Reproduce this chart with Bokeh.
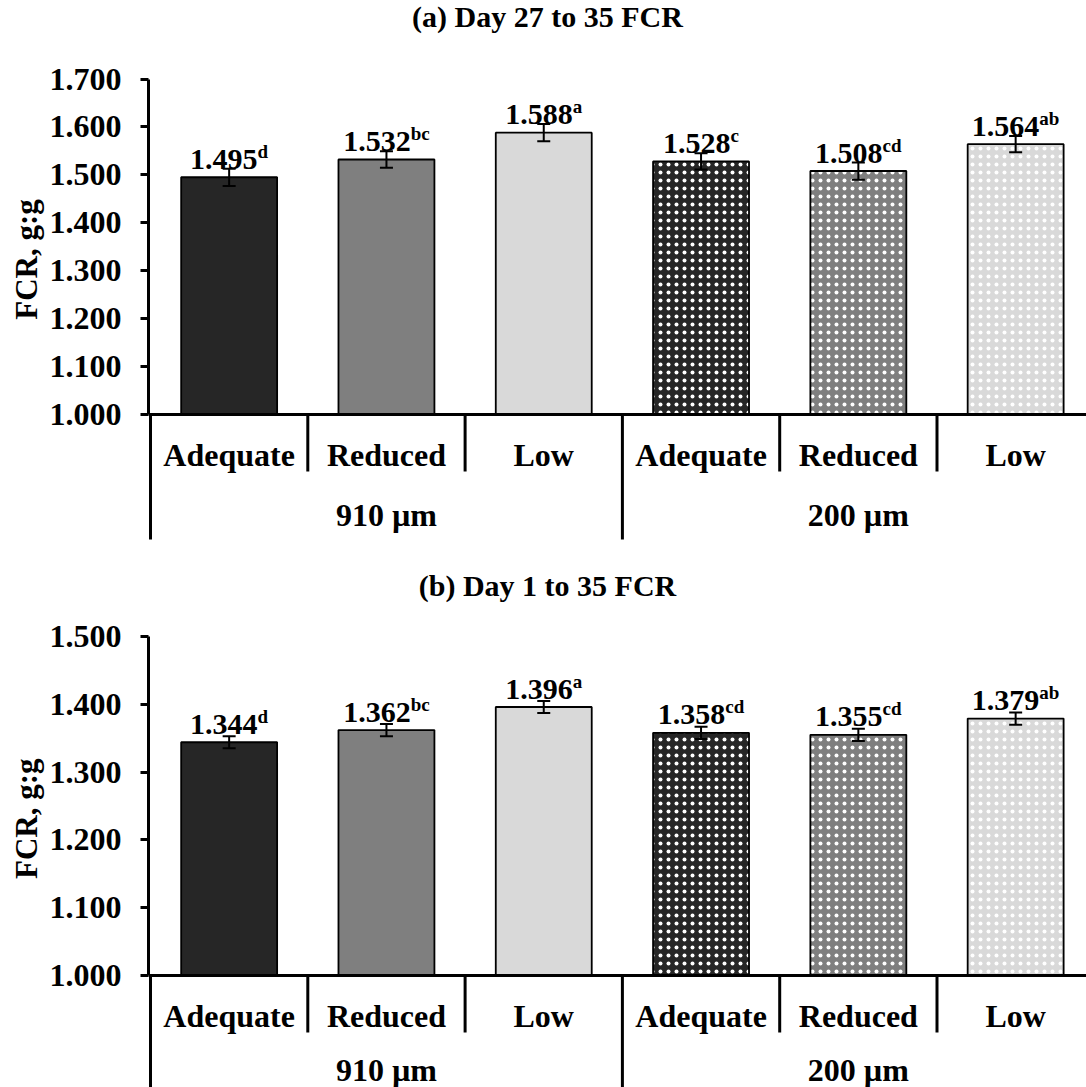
import numpy as np
from bokeh.plotting import figure
from bokeh.models import (ColumnDataSource, FixedTicker, Span, Whisker, TeeHead,
                          Range1d, PrintfTickFormatter, Title)
from bokeh.layouts import column
from bokeh.embed import file_html
from bokeh.resources import INLINE
from bokeh.core.properties import value

# ---------------- data ----------------
levels = ["Adequate", "Reduced", "Low", "Adequate", "Reduced", "Low"]
sizes = ["910 µm", "200 µm"]

fcr_a = [1.495, 1.532, 1.588, 1.528, 1.508, 1.564]
se_a = [0.018, 0.017, 0.018, 0.017, 0.018, 0.017]
sup_a = ["d", "bc", "a", "c", "cd", "ab"]

fcr_b = [1.344, 1.362, 1.396, 1.358, 1.355, 1.379]
se_b = [0.009, 0.009, 0.009, 0.009, 0.009, 0.009]
sup_b = ["d", "bc", "a", "cd", "cd", "ab"]

ticks_a = [1.0, 1.1, 1.2, 1.3, 1.4, 1.5, 1.6, 1.7]
ticks_b = [1.0, 1.1, 1.2, 1.3, 1.4, 1.5]

titles = ["(a) Day 27 to 35 FCR", "(b) Day 1 to 35 FCR"]
y_label = "FCR, g:g"

# ---------------- style ----------------
fills = ["#262626", "#7f7f7f", "#d9d9d9", "#262626", "#7f7f7f", "#d9d9d9"]
hatches = [" ", " ", " ", ".", ".", "."]
FONT = "Liberation Serif"
W = 1086
FRAME_LEFT = 148
CAT_W = 157.3          # px per category
FIRST_CAT_PX = 150     # left edge of first category
NUM_PX, SUP_PX = 30, 19
TICK_PX, CAT_PX, TITLE_PX, YLAB_PX = 32, 32, 30, 31
CHAR_W = {str(d): 0.5 for d in range(10)}
CHAR_W.update({".": 0.25, "a": 0.5, "b": 0.556, "c": 0.444, "d": 0.556})


def text_w(s, size):
    return sum(CHAR_W.get(c, 0.5) for c in s) * size


def panel(title, vals, se, sups, ticks, H, px_top, px_one, title_px, grp_off):
    ppu = (px_one - px_top) / (ticks[-1] - ticks[0])
    ye = ticks[-1] + px_top / ppu
    ys = ye - H / ppu
    xs = -0.5 - (FIRST_CAT_PX - FRAME_LEFT) / CAT_W
    xe = xs + (W - FRAME_LEFT) / CAT_W
    base = ticks[0]

    def below(px):
        return base - px / ppu

    p = figure(width=W, height=H, output_backend="svg", toolbar_location=None,
               x_axis_type=None, x_range=Range1d(xs, xe), y_range=Range1d(ys, ye),
               min_border_left=FRAME_LEFT, min_border_right=0,
               min_border_top=0, min_border_bottom=0)
    p.outline_line_color = None
    p.grid.visible = False
    p.background_fill_color = "white"

    xi = list(range(len(vals)))
    nums = [f"{v:.3f}" for v in vals]
    offs = [(text_w(n, NUM_PX) - text_w(s, SUP_PX)) / 2 for n, s in zip(nums, sups)]
    src = ColumnDataSource(dict(
        x=xi, v=vals, upper=[v + e for v, e in zip(vals, se)],
        lower=[v - e for v, e in zip(vals, se)], fill=fills, hatch=hatches,
        num=nums, sup=sups, off=offs, cat=levels))

    p.vbar(x="x", top="v", bottom=base, width=0.61, source=src,
           fill_color="fill", line_color="black", line_width=1.8,
           hatch_pattern="hatch", hatch_color="white", hatch_scale=8,
           hatch_weight=1.5)

    wk = Whisker(base="x", upper="upper", lower="lower", source=src,
                 dimension="height", line_width=2, line_color="black",
                 level="overlay",
                 upper_head=TeeHead(size=13, line_width=2, line_color="black"),
                 lower_head=TeeHead(size=13, line_width=2, line_color="black"))
    p.add_layout(wk)

    p.text(x="x", y="v", text="num", source=src, text_align="right",
           text_baseline="alphabetic", x_offset="off", y_offset=-18,
           text_font=value(FONT), text_font_style="bold",
           text_font_size=f"{NUM_PX}px", text_color="black")
    p.text(x="x", y="v", text="sup", source=src, text_align="left",
           text_baseline="alphabetic", x_offset="off", y_offset=-26,
           text_font=value(FONT), text_font_style="bold",
           text_font_size=f"{SUP_PX}px", text_color="black")

    # category axis (two levels)
    p.add_layout(Span(location=base, dimension="width", line_color="black",
                      line_width=3))
    p.text(x="x", y=base, text="cat", source=src, text_align="center",
           text_baseline="middle", y_offset=40, text_font=value(FONT),
           text_font_style="bold", text_font_size=f"{CAT_PX}px",
           text_color="black")
    p.text(x=[1, 4], y=[base, base], text=sizes, text_align="center",
           text_baseline="middle", y_offset=grp_off, text_font=value(FONT),
           text_font_style="bold", text_font_size=f"{CAT_PX}px",
           text_color="black")
    short_x = [0.5, 1.5, 3.5, 4.5]
    p.segment(x0=short_x, y0=[base] * 4, x1=short_x, y1=[below(57)] * 4,
              line_color="black", line_width=3)
    long_x = [-0.5, 2.5]
    p.segment(x0=long_x, y0=[base] * 2, x1=long_x, y1=[below(125)] * 2,
              line_color="black", line_width=3)

    # title
    p.text(x=[xs + (547 - FRAME_LEFT) / CAT_W], y=[ticks[-1]], text=[title],
           y_offset=-(px_top - title_px), text_align="center",
           text_baseline="middle", text_font=value(FONT),
           text_font_style="bold", text_font_size=f"{TITLE_PX}px",
           text_color="black")

    ax = p.yaxis[0]
    ax.ticker = FixedTicker(ticks=ticks)
    ax.formatter = PrintfTickFormatter(format="%.3f")
    ax.bounds = (ticks[0], ticks[-1])
    ax.axis_line_width = 3
    ax.axis_line_color = "black"
    ax.major_tick_line_width = 3
    ax.major_tick_line_color = "black"
    ax.major_tick_out = 8
    ax.major_tick_in = 0
    ax.minor_tick_line_color = None
    ax.major_label_standoff = 19
    ax.major_label_text_font = FONT
    ax.major_label_text_font_style = "bold"
    ax.major_label_text_font_size = f"{TICK_PX}px"
    ax.major_label_text_color = "black"

    # y-axis title, centred on the 1.000 .. top-tick span
    mid_px = (px_top + px_one) / 2
    ylab_len = 146
    p.add_layout(Title(text=y_label, align="left",
                       offset=H - (mid_px + ylab_len / 2),
                       text_font=FONT, text_font_style="bold",
                       text_font_size=f"{YLAB_PX}px", text_color="black",
                       standoff=6), "left")
    return p


pa = panel(titles[0], fcr_a, se_a, sup_a, ticks_a, 543, 78.5, 414, 16, 100)
pb = panel(titles[1], fcr_b, se_b, sup_b, ticks_b, 544, 93, 432, 42, 94)

layout = column(pa, pb, spacing=0)
with open("out.html", "w") as f:
    f.write(file_html(layout, INLINE))
